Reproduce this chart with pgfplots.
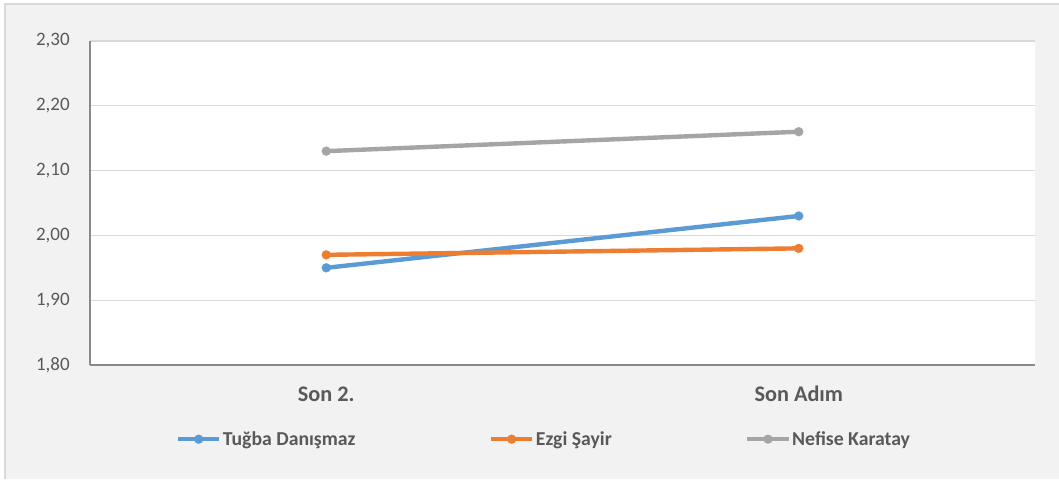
\documentclass[border=0pt]{standalone}
\usepackage{fontspec}
\setmainfont{Carlito}
\usepackage{pgfplots}
\pgfplotsset{compat=1.18}
\definecolor{cblue}{HTML}{5B9BD5}
\definecolor{corange}{HTML}{ED7D31}
\definecolor{cgray}{HTML}{A5A5A5}
\definecolor{bgc}{HTML}{F2F2F2}
\definecolor{bordc}{HTML}{D9D9D9}
\definecolor{gridc}{HTML}{D9D9D9}
\definecolor{axc}{HTML}{898989}
\definecolor{txt}{HTML}{595959}
\begin{document}
\begin{tikzpicture}
\path[use as bounding box] (0pt,0pt) rectangle (794.25pt,359.25pt);
\fill[white] (0pt,0pt) rectangle (794.25pt,359.25pt);
\fill[bgc] (3.75pt,0pt) rectangle (794.25pt,356.25pt);
\draw[bordc, line width=1.5pt] (4.1pt,0pt) -- (4.1pt,355.9pt) -- (794.25pt,355.9pt);
\begin{axis}[
  at={(67.5pt,85.5pt)}, anchor=south west,
  scale only axis,
  width=708.75pt, height=243pt,
  xmin=-0.5, xmax=1.5,
  ymin=1.8, ymax=2.3,
  ytick={1.8,1.9,2.0,2.1,2.2,2.3},
  xtick={0,1},
  xticklabels={Son 2., Son Adım},
  axis x line=bottom, axis y line=left,
  axis line style={draw=axc, line width=0.9pt, -},
  ymajorgrids,
  grid style={draw=gridc, line width=0.9pt},
  major tick length=0pt,
  axis background/.style={fill=white},
  y tick label style={/pgf/number format/.cd, fixed, fixed zerofill, precision=2, use comma, assume math mode=true, /tikz/.cd, font=\fontsize{14.25}{17}\selectfont, text=txt, inner sep=0pt, xshift=-15pt},
  x tick label style={font=\bfseries\fontsize{16.7}{19}\selectfont, text=txt, anchor=base, inner sep=0pt, yshift=-27.5pt},
  legend columns=3,
  legend style={at={(0.0905,-0.2290)}, anchor=west, draw=none, fill=none, inner sep=0pt,
    font=\bfseries\fontsize{14.8}{17}\selectfont, text=txt,
    nodes={inner sep=1pt},
    /tikz/every even column/.append style={column sep=99pt}},
  legend image code/.code={\draw[#1, mark repeat=2, mark phase=2] plot coordinates {(0pt,0pt) (15.5pt,0pt) (31pt,0pt)};},
  clip=false,
]
\addplot[cblue, line width=3.3pt, mark=*, mark size=3.4pt, mark options={fill=cblue, draw=cblue, line width=0.1pt}] coordinates {(0,1.95) (1,2.03)};
\addlegendentry{Tuğba Danışmaz}
\addplot[corange, line width=3.3pt, mark=*, mark size=3.4pt, mark options={fill=corange, draw=corange, line width=0.1pt}] coordinates {(0,1.97) (1,1.98)};
\addlegendentry{Ezgi Şayir}
\addplot[cgray, line width=3.3pt, mark=*, mark size=3.4pt, mark options={fill=cgray, draw=cgray, line width=0.1pt}] coordinates {(0,2.13) (1,2.16)};
\addlegendentry{Nefise Karatay}
\end{axis}
\end{tikzpicture}
\end{document}
